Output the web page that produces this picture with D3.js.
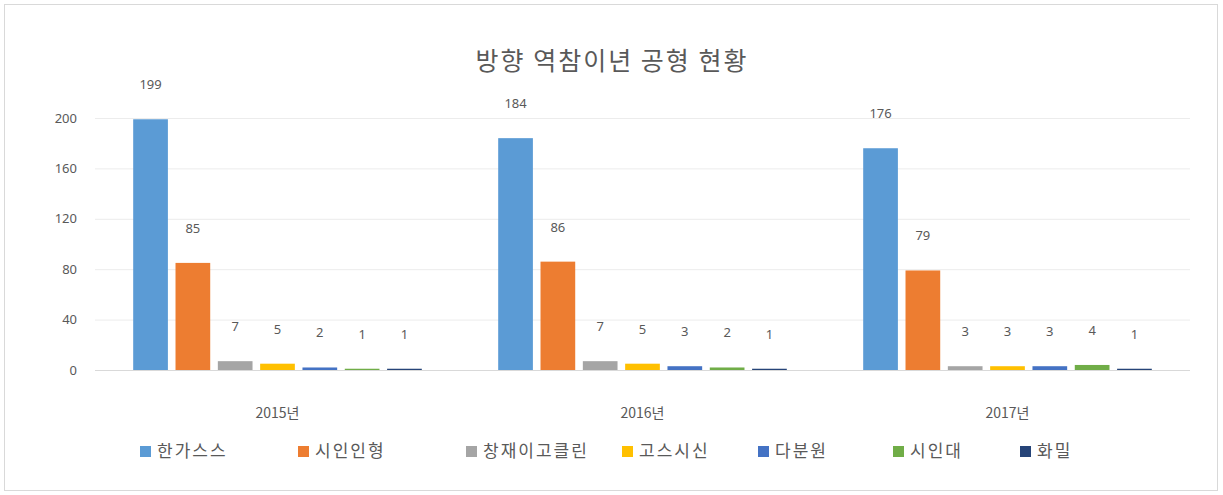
<!DOCTYPE html>
<html>
<head>
<meta charset="utf-8">
<script src="https://cdn.jsdelivr.net/npm/d3@7"></script>
<style>
  body { margin: 0; background: #fff; }
  text { font-family: "Noto Sans CJK KR", "Noto Sans", sans-serif; fill: #595959; }
</style>
</head>
<body>
<div class="chart"></div>
<script>
// chart data
var years = ["2015년", "2016년", "2017년"];
var seriesNames = ["한가스스", "시인인형", "창재이고클린", "고스시신", "다분원", "시인대", "화밀"];
var seriesColors = ["#5B9BD5", "#ED7D31", "#A5A5A5", "#FFC000", "#4472C4", "#70AD47", "#264478"];
var values2015 = [199, 85, 7, 5, 2, 1, 1];
var values2016 = [184, 86, 7, 5, 3, 2, 1];
var values2017 = [176, 79, 3, 3, 3, 4, 1];
var yTicks = [0, 40, 80, 120, 160, 200];
var title = "방향 역참이년 공형 현황";

var allValues = [values2015, values2016, values2017];

var svg = d3.select(".chart").append("svg").attr("width", 1223).attr("height", 495),
    margin = {top: 118, right: 33, bottom: 125, left: 95},
    width = 1223 - margin.left - margin.right,
    height = 495 - margin.top - margin.bottom;

// outer border
svg.append("rect")
    .attr("x", 4.5).attr("y", 4.5)
    .attr("width", 1213).attr("height", 486)
    .attr("fill", "#fff").attr("stroke", "#d9d9d9");

svg.append("text")
    .attr("x", 612).attr("y", 70)
    .attr("text-anchor", "middle")
    .style("font-size", "25px")
    .style("letter-spacing", "2px")
    .text(title);

var x0 = d3.scaleBand().domain(years).range([0, width]).paddingInner(0.2).paddingOuter(0.1),
    x1 = d3.scaleBand().domain(d3.range(seriesNames.length)).range([0, x0.bandwidth()])
           .paddingInner(0.18).paddingOuter(0.04),
    y = d3.scaleLinear().domain([0, 200]).range([height, 0]);

var g = svg.append("g").attr("transform", `translate(${margin.left},${margin.top})`);

// gridlines
g.append("g")
    .selectAll("line")
    .data(yTicks)
    .enter().append("line")
      .attr("x1", 0).attr("x2", width)
      .attr("y1", d => y(d) + 0.5).attr("y2", d => y(d) + 0.5)
      .attr("stroke", d => d === 0 ? "#d9d9d9" : "#ececec");

// y axis labels
var yAxis = g.append("g")
    .call(d3.axisLeft(y).tickValues(yTicks).tickSize(0).tickPadding(18));
yAxis.select(".domain").remove();
yAxis.selectAll("text").style("font-size", "13px").style("fill", "#595959")
    .style("font-family", "'Noto Sans', sans-serif");

// x axis labels
var xAxis = g.append("g")
    .attr("transform", `translate(0,${height})`)
    .call(d3.axisBottom(x0).tickSize(0).tickPadding(38));
xAxis.select(".domain").remove();
xAxis.selectAll("text").style("font-size", "14px").style("fill", "#595959")
    .style("font-family", "'Noto Sans CJK KR', sans-serif");

var groups = g.selectAll(".group")
    .data(years)
    .enter().append("g")
      .attr("class", "group")
      .attr("transform", d => `translate(${x0(d)},0)`);

groups.selectAll("rect")
    .data((d, i) => allValues[i].map((v, j) => ({s: j, v: v})))
    .enter().append("rect")
      .attr("x", d => x1(d.s))
      .attr("y", d => y(d.v))
      .attr("width", x1.bandwidth())
      .attr("height", d => height - y(d.v))
      .attr("fill", d => seriesColors[d.s]);

groups.selectAll(".lbl")
    .data((d, i) => allValues[i].map((v, j) => ({s: j, v: v})))
    .enter().append("text")
      .attr("class", "lbl")
      .attr("x", d => x1(d.s) + x1.bandwidth() / 2)
      .attr("y", d => y(d.v) - 30)
      .attr("text-anchor", "middle")
      .style("font-size", "13px")
      .style("font-family", "'Noto Sans', sans-serif")
      .text(d => d.v);

// legend
var legendX = [140, 298, 466, 622, 758, 893, 1020];
var legend = svg.append("g")
    .selectAll("g")
    .data(seriesNames)
    .enter().append("g")
      .attr("transform", (d, i) => `translate(${legendX[i]},452)`);

legend.append("rect")
    .attr("x", 0).attr("y", -6)
    .attr("width", 11).attr("height", 11)
    .attr("fill", (d, i) => seriesColors[i]);

legend.append("text")
    .attr("x", 17).attr("y", 5)
    .style("font-size", "17px")
    .style("letter-spacing", "2px")
    .text(d => d);
</script>
</body>
</html>
